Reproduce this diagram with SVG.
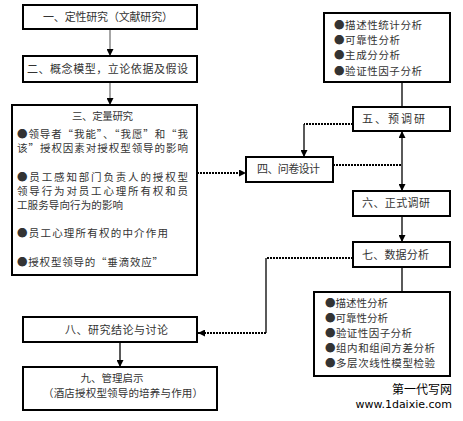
<svg xmlns="http://www.w3.org/2000/svg" width="463" height="421" viewBox="0 0 463 421">
<style>
.box{fill:#fff;stroke:#000;stroke-width:2}
.t{font-family:"Noto Sans CJK SC","Noto Sans",sans-serif;font-size:11px;fill:#333}
.s{font-size:10.5px}
.c{text-anchor:middle}
.ln{stroke:#000;stroke-width:1.3;fill:none}
.gr{stroke:#888;stroke-width:1.5;fill:none}
.dot{stroke:#000;stroke-width:2;fill:none;stroke-dasharray:2,1}
.wm{font-family:"DejaVu Sans","Noto Sans CJK SC",sans-serif;fill:#000;text-anchor:end}
</style>
<defs>
<marker id="ah" viewBox="0 0 8 8" refX="8" refY="4" markerWidth="7" markerHeight="7" markerUnits="userSpaceOnUse" orient="auto-start-reverse">
<path d="M0,0 L8,4 L0,8 z" fill="#000"/>
</marker>
</defs>
<rect width="463" height="421" fill="#fff"/>
<g id="connectors">
<line class="gr" x1="110" y1="29" x2="110" y2="56" marker-end="url(#ah)"/>
<line class="gr" x1="110" y1="82" x2="110" y2="105" marker-end="url(#ah)"/>
<line class="dot" x1="197" y1="173" x2="246" y2="173" marker-end="url(#ah)"/>
<line class="dot" x1="353" y1="124" x2="304" y2="124"/>
<line class="ln" x1="304" y1="124" x2="304" y2="157" marker-end="url(#ah)"/>
<line class="dot" x1="333" y1="165" x2="402" y2="165"/>
<line class="ln" x1="402" y1="131" x2="402" y2="191" marker-start="url(#ah)" marker-end="url(#ah)"/>
<line class="ln" x1="402" y1="82" x2="402" y2="107"/>
<line class="ln" x1="402" y1="216" x2="402" y2="242" marker-end="url(#ah)"/>
<line class="dot" x1="353" y1="258" x2="266" y2="258"/>
<line class="ln" x1="266" y1="258" x2="266" y2="333"/>
<line class="dot" x1="266" y1="333" x2="198" y2="333" marker-end="url(#ah)"/>
<line class="ln" x1="402" y1="267" x2="402" y2="292"/>
<line class="ln" x1="120" y1="342" x2="120" y2="367" marker-end="url(#ah)"/>
</g>
<g id="n1">
<rect class="box" x="23" y="5" width="174" height="24"/>
<text class="t" x="43" y="21" textLength="130">一、定性研究（文献研究）</text>
</g>
<g id="n2">
<rect class="box" x="23" y="56" width="174" height="26"/>
<text class="t" x="27" y="73" textLength="161">二、概念模型，立论依据及假设</text>
</g>
<g id="n3">
<rect class="box" x="12" y="105" width="185" height="170"/>
<text class="t s" x="72" y="120" textLength="61">三、定量研究</text>
<text class="t s" x="17" y="138" textLength="171">●领导者“我能”、“我愿”和“我</text>
<text class="t s" x="17" y="152" textLength="171">该”授权因素对授权型领导的影响</text>
<text class="t s" x="17" y="181" textLength="171">●员工感知部门负责人的授权型</text>
<text class="t s" x="17" y="195" textLength="171">领导行为对员工心理所有权和员</text>
<text class="t s" x="17" y="209" textLength="106">工服务导向行为的影响</text>
<text class="t s" x="17" y="237" textLength="151">●员工心理所有权的中介作用</text>
<text class="t s" x="17" y="266" textLength="146">●授权型领导的“垂滴效应”</text>
</g>
<g id="n4">
<rect class="box" x="246" y="157" width="87" height="25"/>
<text class="t" x="257" y="173" textLength="63">四、问卷设计</text>
</g>
<g id="n-stats1">
<rect class="box" x="324" y="13" width="126" height="69"/>
<text class="t s" x="334" y="29" textLength="88">●描述性统计分析</text>
<text class="t s" x="334" y="44" textLength="66">●可靠性分析</text>
<text class="t s" x="334" y="59" textLength="66">●主成分分析</text>
<text class="t s" x="334" y="75" textLength="88">●验证性因子分析</text>
</g>
<g id="n5">
<rect class="box" x="353" y="107" width="97" height="24"/>
<text class="t" x="362" y="123" textLength="63">五、预调研</text>
</g>
<g id="n6">
<rect class="box" x="353" y="191" width="97" height="25"/>
<text class="t" x="362" y="207" textLength="68">六、正式调研</text>
</g>
<g id="n7">
<rect class="box" x="353" y="242" width="97" height="25"/>
<text class="t" x="362" y="259" textLength="67">七、数据分析</text>
</g>
<g id="n-stats2">
<rect class="box" x="314" y="292" width="136" height="84"/>
<text class="t s" x="325" y="307" textLength="63">●描述性分析</text>
<text class="t s" x="325" y="322" textLength="63">●可靠性分析</text>
<text class="t s" x="325" y="337" textLength="87">●验证性因子分析</text>
<text class="t s" x="325" y="352" textLength="110">●组内和组间方差分析</text>
<text class="t s" x="325" y="367" textLength="110">●多层次线性模型检验</text>
</g>
<g id="n8">
<rect class="box" x="23" y="317" width="174" height="25"/>
<text class="t" x="65" y="334" textLength="103">八、研究结论与讨论</text>
</g>
<g id="n9">
<rect class="box" x="23" y="367" width="194" height="43"/>
<text class="t s c" x="112" y="382">九、管理启示</text>
<text class="t s" x="43" y="397" textLength="160">（酒店授权型领导的培养与作用）</text>
</g>
<g id="watermark">
<text class="wm" x="452" y="394" font-size="12" font-family="Noto Sans CJK SC">第一代写网</text>
<text class="wm" x="452" y="408" font-size="11">www.1daixie.com</text>
</g>
</svg>
